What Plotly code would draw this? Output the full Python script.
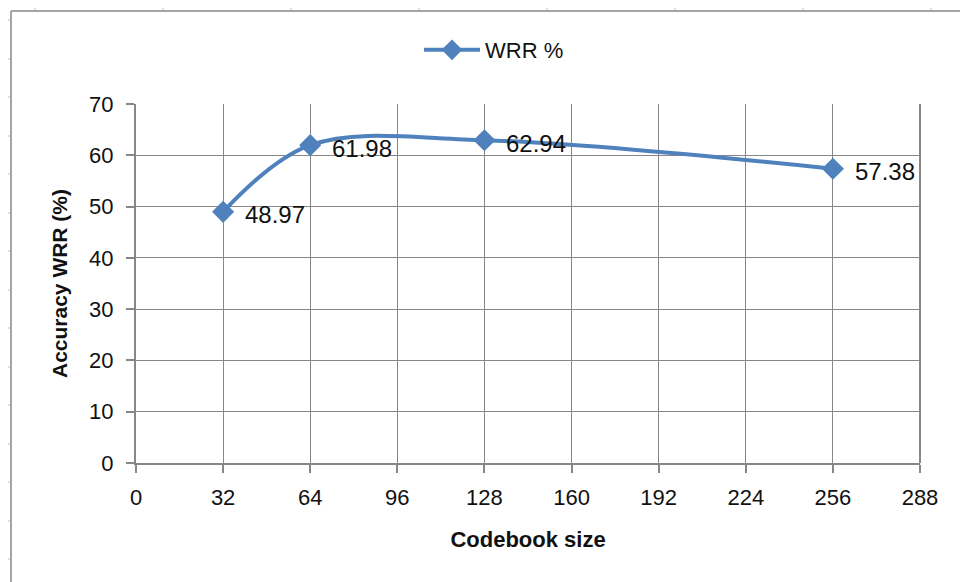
import plotly.graph_objects as go

codebook_size = [32, 64, 128, 256]
wrr_percent = [48.97, 61.98, 62.94, 57.38]
series_name = "WRR %"
x_ticks = [0, 32, 64, 96, 128, 160, 192, 224, 256, 288]
y_ticks = [0, 10, 20, 30, 40, 50, 60, 70]

# page body has an 8px margin; positions below are screen pixels
OFF = 8
W, H = 968 - OFF, 582 - OFF
L, R, T, B = 136 - OFF, 920 - OFF, 104 - OFF, 463 - OFF

def px(x):
    return (x - OFF - L) / (R - L)

def py(y):
    return (B - (y - OFF)) / (B - T)

line_col = "#4F81BD"
grid_col = "#878787"
font = "Liberation Sans"

fig = go.Figure()
fig.add_trace(go.Scatter(
    x=codebook_size, y=wrr_percent, name=series_name,
    mode="lines+markers",
    line=dict(color=line_col, width=4, shape="spline", smoothing=1.0),
    marker=dict(symbol="diamond", size=17, color=line_col),
    cliponaxis=False,
))

for xv, yv in zip(codebook_size, wrr_percent):
    fig.add_annotation(x=xv, y=yv, xref="x", yref="y", text=f"{yv:.2f}",
                       showarrow=False, xanchor="left", yanchor="middle",
                       xshift=20, yshift=-3,
                       font=dict(family=font, size=24, color="#111111"))

shapes = []
frame_col = "#a6a6a6"
shapes.append(dict(type="line", xref="paper", yref="paper", x0=px(11), x1=px(980), y0=py(11), y1=py(11),
                   line=dict(color=frame_col, width=2)))
shapes.append(dict(type="line", xref="paper", yref="paper", x0=px(11), x1=px(11), y0=py(11), y1=py(600),
                   line=dict(color=frame_col, width=2)))
for cx in [35, 163, 291, 419, 547, 675, 803, 931]:
    shapes.append(dict(type="line", xref="paper", yref="paper", x0=px(cx), x1=px(cx), y0=py(8), y1=py(10),
                       line=dict(color="#d4d4d4", width=1.5)))
for ry in [20, 59, 97, 136, 174, 213, 251, 290, 328, 367, 405, 444, 482, 521, 559]:
    shapes.append(dict(type="line", xref="paper", yref="paper", x0=px(8), x1=px(10), y0=py(ry), y1=py(ry),
                       line=dict(color="#d4d4d4", width=1.5)))
shapes.append(dict(type="line", xref="paper", yref="paper", x0=1, x1=1, y0=0, y1=1,
                   line=dict(color=grid_col, width=2)))

fig.update_layout(
    width=W, height=H,
    margin=dict(l=L, r=W - R, t=T, b=H - B),
    paper_bgcolor="white", plot_bgcolor="white",
    font=dict(family=font, size=21, color="#111111"),
    showlegend=True,
    legend=dict(orientation="h", x=px(494), xanchor="center", y=py(50), yanchor="middle",
                font=dict(family=font, size=22), itemwidth=56),
    shapes=shapes,
    xaxis=dict(range=[0, 288], tickvals=x_ticks, ticktext=[str(v) for v in x_ticks],
               showgrid=True, gridcolor=grid_col, gridwidth=1,
               showline=True, linecolor=grid_col, linewidth=2,
               ticks="outside", ticklen=8, tickcolor=grid_col, tickwidth=1.5,
               zeroline=False, tickfont=dict(size=22), ticklabelstandoff=6,
               title=dict(text="<b>Codebook size</b>", font=dict(size=22), standoff=22)),
    yaxis=dict(range=[0, 70], tickvals=y_ticks,
               showgrid=True, gridcolor=grid_col, gridwidth=1,
               showline=True, linecolor=grid_col, linewidth=2,
               ticks="outside", ticklen=8, tickcolor=grid_col, tickwidth=1.5,
               zeroline=False, tickfont=dict(size=22), ticklabelstandoff=8,
               title=dict(text="<b>Accuracy WRR (%)</b>", font=dict(size=21), standoff=16)),
)

fig.write_html("out.html")
